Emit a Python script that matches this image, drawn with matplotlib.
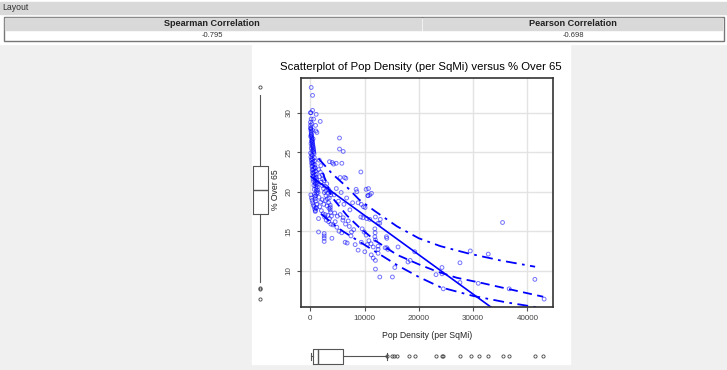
import matplotlib
matplotlib.use("Agg")
import matplotlib.pyplot as plt
from matplotlib.patches import Rectangle

plt.rcParams["font.family"] = ["Liberation Sans", "DejaVu Sans"]

#  Correlations shown in the table
spearman = -0.795
pearson = -0.698

#  Scatter data
core_x = [60, 120, 180, 240, 300, 360, 420, 480, 540, 600,
          90, 150, 210, 270, 330, 390, 450, 510, 570, 630,
          40, 100, 160, 220, 280, 340, 400, 460, 520, 580,
          700, 760, 820, 880, 940, 1000, 1060, 1120, 1180, 1240,
          70, 130, 190, 250, 310, 370, 430, 490, 550, 610,
          660, 720, 780, 840, 900, 960, 1020, 1080, 1140, 1200,
          80, 140, 200, 260, 320, 380, 440, 500, 560, 620,
          1260, 1320, 1380, 1440, 680, 740, 800, 860, 920, 980,
          110, 230, 350, 470, 590, 710, 830, 950, 1070, 1190,
          50, 170, 290, 410, 530, 650, 770, 890, 1010, 1130,
          180, 430, 430, 120, 1100, 610, 1840, 980, 1040, 1230]
core_y = [28.4, 27.9, 27.5, 27.1, 26.8, 26.5, 26.2, 25.9, 25.6, 25.3,
          28.1, 27.7, 27.3, 26.9, 26.6, 26.3, 26.0, 25.7, 25.4, 25.1,
          28.8, 28.0, 27.2, 26.4, 25.8, 25.2, 24.6, 24.1, 23.8, 23.5,
          24.8, 24.3, 23.9, 23.4, 23.0, 22.6, 22.2, 21.8, 21.5, 21.2,
          24.9, 24.4, 24.0, 23.6, 23.2, 22.8, 22.4, 22.0, 21.6, 21.3,
          22.9, 22.5, 22.1, 21.7, 21.4, 21.0, 20.7, 20.4, 20.1, 19.8,
          27.0, 26.1, 25.5, 24.7, 24.2, 23.7, 23.3, 22.7, 22.3, 21.9,
          20.9, 20.6, 20.2, 19.9, 20.8, 20.3, 19.7, 19.4, 19.1, 18.8,
          19.6, 19.2, 18.9, 18.6, 18.3, 18.1, 17.8, 17.6, 17.9, 18.4,
          30.0, 29.2, 28.6, 27.8, 26.7, 25.0, 23.1, 21.1, 19.5, 18.0,
          33.2, 32.2, 30.3, 30.0, 29.8, 29.2, 28.9, 28.4, 27.7, 27.5]

near_x = [1550, 1700, 1850, 2000, 2150, 2300, 2450, 2600, 2750, 2900, 3050, 3200, 3350, 3500, 3650, 3800,
          1600, 1900, 2200, 2500, 2800, 3100, 3400, 3700,
          1650, 1950, 2250, 2550, 2850, 3150, 3450, 3750,
          1750, 2050, 2350, 2650, 2950, 3250, 3550, 3900,
          1530, 2760, 3680, 3680, 1530, 2570, 2570, 2570, 2570, 3990, 3400, 3800, 920]
near_y = [22.8, 21.9, 22.5, 21.2, 20.8, 21.6, 20.4, 19.9, 20.7, 19.5, 21.0, 19.8, 20.3, 19.2, 20.0, 19.6,
          19.3, 18.7, 19.0, 18.4, 18.9, 18.2, 18.6, 18.0,
          24.0, 23.3, 22.1, 21.4, 20.1, 19.1, 17.9, 17.4,
          18.1, 17.6, 17.2, 16.8, 16.4, 17.0, 16.6, 16.9,
          16.6, 17.1, 17.7, 18.3, 14.9, 14.7, 14.4, 14.1, 13.7, 14.1, 16.2, 15.9, 17.5]

mid_x = [3550, 4040, 4290, 4780, 5820, 5390, 5390, 6070, 5510, 6310, 6560,
         4200, 4600, 4900, 5300, 5800, 6070, 6430, 6800, 7200, 7600, 8270, 8820,
         4500, 5000, 5500, 6000, 6500, 7000, 7500, 8000,
         4400, 4800, 5200, 5700, 6200, 6700, 7300, 7800]
mid_y = [23.8, 23.7, 23.5, 23.6, 23.6, 26.8, 25.4, 25.1, 21.8, 21.8, 21.7,
         15.8, 16.2, 15.5, 15.0, 14.8, 16.7, 13.6, 13.5, 15.6, 14.9, 13.3, 12.6,
         17.3, 16.9, 17.1, 16.4, 15.9, 16.3, 14.4, 15.2,
         19.6, 20.4, 18.8, 19.9, 18.4, 19.2, 17.7, 18.6]

far_x = [9320, 10720, 10290, 8450, 10600, 8580, 10660, 9320, 9700, 10400, 10970, 9560, 9930,
         11900, 11950, 11900, 12000, 10300, 10800, 11200, 11600, 10500, 9400, 10050,
         12500, 12500, 12500, 11230, 11600, 12000, 12800, 12500, 12000, 12900,
         8820, 9400, 9800, 10100, 10970, 11270, 12810]
far_y = [22.5, 20.4, 20.3, 20.3, 19.5, 20.0, 19.5, 16.8, 16.7, 16.6, 16.5, 15.3, 14.9,
         15.3, 14.8, 14.3, 13.9, 14.5, 13.8, 13.4, 13.0, 13.3, 13.6, 12.4,
         13.1, 12.7, 12.2, 12.0, 11.6, 11.3, 16.0, 16.0, 16.8, 16.5,
         18.6, 18.4, 18.1, 18.0, 19.6, 19.8, 9.2]

tail_x = [14100, 14030, 14100, 13800, 14300, 16170, 15570, 15130, 18000, 18400, 19240,
          23160, 24260, 24260, 24500, 27570, 27570, 29470, 30940, 32780, 35410, 36630,
          41360, 43070, 12010]
tail_y = [14.1, 14.3, 12.9, 12.9, 12.7, 13.0, 10.4, 9.2, 11.1, 11.3, 12.4,
          9.5, 10.4, 9.6, 7.7, 11.0, 8.5, 12.5, 8.4, 12.1, 16.1, 7.7,
          8.9, 6.4, 10.2]

pop_density = core_x + near_x + mid_x + far_x + tail_x
pct_over65 = core_y + near_y + mid_y + far_y + tail_y

#  Fitted lines
reg_x = [180, 43070]
reg_y = [21.9, 0.5]
fit_x = [2300, 4000, 6740, 9000, 12000, 16000, 20000, 23300, 27000, 31850, 37000, 42900]
fit_y = [22.4, 19.3, 17.0, 15.5, 13.8, 12.0, 10.8, 9.9, 9.1, 8.4, 7.6, 6.7]
upper_x = [1530, 4000, 6740, 9000, 12000, 16000, 20000, 24000, 29000, 35000, 41400]
upper_y = [24.2, 22.3, 20.6, 19.0, 17.5, 15.6, 14.1, 13.1, 12.2, 11.3, 10.5]
lower_x = [2000, 4000, 6000, 9000, 12500, 16000, 20000, 24000, 30000, 36000, 42300]
lower_y = [17.2, 16.0, 15.0, 13.7, 12.2, 10.7, 9.2, 7.9, 6.8, 6.0, 5.3]

#  Marginal boxplots
box_y = dict(med=20.2, q1=17.2, q3=23.3, whislo=8.6, whishi=32.2, fliers=[33.2, 7.8, 7.7, 6.4])
box_x = dict(med=1470, q1=550, q3=6070, whislo=100, whishi=14090,
             fliers=[14090, 15010, 15440, 15930, 18260, 19300, 23100, 24320, 24500,
                     27570, 29530, 31000, 32780, 35410, 36640, 41360, 42890])

x_ticks = [0, 10000, 20000, 30000, 40000]
y_ticks = [10, 15, 20, 25, 30]
x_lim = (-1700, 44700)
y_lim = (5.4, 34.4)

W, H = 727, 370


def px_box(l, t, r, b):
    return [l / W, 1 - b / H, (r - l) / W, (b - t) / H]


fig = plt.figure(figsize=(W / 100, H / 100), dpi=100, facecolor="#f0f0f0")

#  Page background, table and white panel
bg = fig.add_axes([0, 0, 1, 1])
bg.set_xlim(0, W)
bg.set_ylim(H, 0)
bg.axis("off")
bg.add_patch(Rectangle((0, 0), W, 44, color="white"))
bg.add_patch(Rectangle((0, 2), W, 12, color="#d9d9d9"))
bg.text(2, 8, "Layout", fontsize=6.3, va="center", ha="left", color="#333333")
bg.add_patch(Rectangle((3.5, 16.5), 720, 24.5, facecolor="white", edgecolor="#777777", lw=1))
bg.add_patch(Rectangle((5, 18), 416, 12, color="#d9d9d9"))
bg.add_patch(Rectangle((423, 18), 299, 12, color="#d9d9d9"))
bg.text(212, 24, "Spearman Correlation", ha="center", va="center", fontsize=6.6,
        fontweight="bold", color="#222222")
bg.text(573, 24, "Pearson Correlation", ha="center", va="center", fontsize=6.6,
        fontweight="bold", color="#222222")
bg.text(212, 35.5, f"{spearman:.3f}", ha="center", va="center", fontsize=5.5, color="#333333")
bg.text(573, 35.5, f"{pearson:.3f}", ha="center", va="center", fontsize=5.5, color="#333333")
bg.add_patch(Rectangle((252, 45), 318, 319, color="white"))
bg.text(421, 67, "Scatterplot of Pop Density (per SqMi) versus % Over 65", ha="center",
        va="center", fontsize=8.2, color="black")
bg.text(427, 335, "Pop Density (per SqMi)", ha="center", va="center", fontsize=6.2, color="#222222")
bg.text(275, 190, "% Over 65", ha="center", va="center", rotation=90, fontsize=6.2, color="#222222")

#  Main scatter
ax = fig.add_axes(px_box(301, 78, 553, 307))
ax.set_facecolor("white")
ax.scatter(pop_density, pct_over65, s=7.5, facecolors="none", edgecolors=(0, 0, 1, 0.55), linewidths=0.7)
ax.plot(reg_x, reg_y, color="blue", lw=1.2)
ax.plot(fit_x, fit_y, color="blue", lw=1.3, ls=(0, (5, 3)))
ax.plot(upper_x, upper_y, color="blue", lw=1.3, ls=(0, (6, 3, 1.5, 3)))
ax.plot(lower_x, lower_y, color="blue", lw=1.3, ls=(0, (6, 3, 1.5, 3)))
ax.set_xlim(x_lim)
ax.set_ylim(y_lim)
ax.set_xticks(x_ticks)
ax.set_xticklabels([str(t) for t in x_ticks])
ax.set_yticks(y_ticks)
ax.set_yticklabels([str(t) for t in y_ticks], rotation=90, va="center")
ax.grid(color="#e3e3e3", lw=1)
ax.set_axisbelow(True)
ax.tick_params(direction="out", length=3, width=0.8, color="#555555", labelsize=5.8,
               labelcolor="#444444", pad=3)
for sp in ax.spines.values():
    sp.set_color("#333333")
    sp.set_linewidth(1.2)

box_style = dict(
    boxprops=dict(color="#555555", lw=0.8),
    medianprops=dict(color="#555555", lw=1.0),
    whiskerprops=dict(color="#555555", lw=0.8),
    capprops=dict(color="#555555", lw=0.8),
    flierprops=dict(marker="o", markersize=2.3, markerfacecolor="none",
                    markeredgecolor="#444444", markeredgewidth=0.6),
)

#  Left marginal boxplot for % Over 65
axl = fig.add_axes(px_box(250, 78, 270, 307))
axl.bxp([box_y], positions=[0.5], widths=0.75, capwidths=0.0, **box_style)
axl.set_xlim(0, 1)
axl.set_ylim(y_lim)
axl.axis("off")

#  Bottom marginal boxplot for Pop Density
axb = fig.add_axes(px_box(301, 346, 553, 366))
axb.bxp([box_x], positions=[0.5], widths=0.75, capwidths=0.35, orientation="horizontal", **box_style)
axb.set_ylim(0, 1)
axb.set_xlim(x_lim)
axb.axis("off")

fig.savefig("out.png", dpi=100, facecolor=fig.get_facecolor())
